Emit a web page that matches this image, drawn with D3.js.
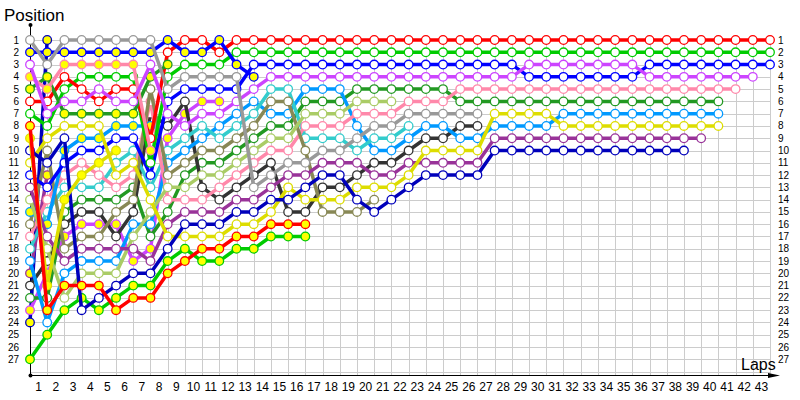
<!DOCTYPE html>
<html>
<head>
<meta charset="utf-8">
<script src="https://cdn.jsdelivr.net/npm/d3@7.9.0/dist/d3.min.js"></script>
<style>
  body { margin: 0; background: #fff; }
  svg { display: block; font-family: Tahoma, "Liberation Sans", sans-serif; }
</style>
</head>
<body>
<svg id="chart" width="800" height="400"></svg>
<script>
// Lap chart: position of each car at the end of every lap (lap 0 = grid)
const lapCount = 43;
const maxPosition = 27;

// positions per car, index = lap
const gray1    = [1,3,1,1,1,1,1,1,5,4,4,4,4,13,12,11,11,10,10,9,8,8,7,7,7,7,7];
const blue2    = [2,2,2,2,2,2,2,2,1,2,2,1,3,4];
const violet3  = [3,7,6,6,5,6,6,3,7,8,7,7,6,5,4,4,4,4,4,4,4,4,4,4,4,4,4,4,4,3,3,3,3,3,3,3,4,4,4,4,4,4,4];
const pink4    = [4,5,3,3,3,3,3,10];
const dkgreen5 = [5,4,7,7,7,7,7,4,3];
const red6     = [6,6,4,5,6,5,5,9,2,1,1,2,1,1,1,1,1,1,1,1,1,1,1,1,1,1,1,1,1,1,1,1,1,1,1,1,1,1,1,1,1,1,1,1];
const green7   = [7,8,5,4,4,4,4,11,4,3,3,3,2,2,2,2,2,2,2,2,2,2,2,2,2,2,2,2,2,2,2,2,2,2,2,2,2,2,2,2,2,2,2,2];
const red8     = [8,23,21,21,21,23,22,22,20,19,18,18,17,17,16,16,16];
const yellow9  = [9,21,14,12,11,10];
const navy10   = [10,11,9,23,22,21,20,20,18,16,16,16,15,15,14,14,13,12,12,14,15,14,13,12,12,12,12,10,10,10,10,10,10,10,10,10,10,10,10];
const yellow11 = [11,9,8,8,8,12,11,14,17,17,17,17,16,16,15,13,14,14,14,13,13,13,12,10,10,10,10,7,7,7,7,8,8,8,8,8,8,8,8,8,8];
const blue12   = [12,13,11,10,10,9,9,12,6,5,5,5,5,3,3,3,3,3,3,3,3,3,3,3,3,3,3,3,3,4,4,4,4,4,4,4,3,3,3,3,3,3,3,3];
const purple13 = [13,17,19,18,18,18,18,19,16,15,15,15,14,14,13,12,12,11,11,11,12,12,11,11,11,11,11,9,9,9,9,9,9,9,9,9,9,9,9,9];
const lgreen14 = [14,18,22,20,20,20,17,15,13,13,12,12,11,10,9,9,7,7,7,6,6,6];
const sky15    = [15,16,10,9,9,8,8,8];
const olive16  = [16,10,18,17,17,15,14,5,12,11,10,10,9,8,6,6,10,15,15,15,14];
const pink17   = [17,14,12,11,12,13,12,6,14,14,14,13,12,11,10,10,8,8,8,7,7,7,6,6,6,5,5,5,5,5,5,5,5,5,5,5,5,5,5,5,5,5];
const cyan18   = [18,15,13,13,13,11,10,13,10,9,8,9,8,7,5,5,9,9,9,10,9,9,8];
const sky19    = [19,24,20,19,19,19,16,16,11,10,9,8,7,6,7,7,5,5,5,8,10,10,9,8,8,9,9,8,8,8,8,7,7,7,7,7,7,7,7,7,7];
const purple20 = [20,12];
const dkgray21 = [21,19,16,15,15,17,15,7,8,6,13,14,13,12,11,15,15,13,13,12,11,11,10,9,9,8,8];
const dkgreen22= [22,22,15,14,14,14,13,17,15,12,11,11,10,9,8,8,6,6,6,5,5,5,5,5,5,6,6,6,6,6,6,6,6,6,6,6,6,6,6,6,6];
const violet23 = [23,20,17,16,16,16,19,18,9,7,6,6];
const navy24   = [24,1];
const green27  = [27,25,23,22,23,22,21,21,19,18,19,19,18,18,17,17,17];

const positionLabels = d3.range(1, maxPosition + 1);
const lapLabels = d3.range(1, lapCount + 1);

// colour and marker style per car (second driver of a team has filled markers)
const cars = [
  { pos: green27,  color: '#00cc00', second: true },
  { pos: navy24,   color: '#0000bb', second: true },
  { pos: violet23, color: '#cc44ff', second: true },
  { pos: dkgreen22,color: '#229922', second: false },
  { pos: dkgray21, color: '#333333', second: false },
  { pos: purple20, color: '#993399', second: true },
  { pos: sky19,    color: '#0099ff', second: false },
  { pos: cyan18,   color: '#33cccc', second: false },
  { pos: pink17,   color: '#ff88aa', second: false },
  { pos: olive16,  color: '#888855', second: false },
  { pos: sky15,    color: '#0099ff', second: true },
  { pos: lgreen14, color: '#aacc66', second: false },
  { pos: purple13, color: '#993399', second: false },
  { pos: blue12,   color: '#0000ff', second: false },
  { pos: yellow11, color: '#dddd00', second: false },
  { pos: navy10,   color: '#0000bb', second: false },
  { pos: yellow9,  color: '#dddd00', second: true },
  { pos: red8,     color: '#ff0000', second: true },
  { pos: green7,   color: '#00cc00', second: false },
  { pos: red6,     color: '#ff0000', second: false },
  { pos: dkgreen5, color: '#229922', second: true },
  { pos: pink4,    color: '#ff88aa', second: true },
  { pos: violet3,  color: '#cc44ff', second: false },
  { pos: blue2,    color: '#0000ff', second: true },
  { pos: gray1,    color: '#999999', second: false }
];

const svg = d3.select('#chart');
const x = d3.scaleLinear().domain([0, lapCount]).range([30, 770]);
const y = d3.scaleLinear().domain([1, maxPosition]).range([40, 359.3]);
const axisY = Math.round(y(28.3)) + 0.5;

// grid
const grid = svg.append('g').attr('stroke', '#cccccc').attr('stroke-width', 1);
grid.selectAll('line.h')
  .data(d3.range(1, 29))
  .join('line')
  .attr('x1', x(0)).attr('x2', x(lapCount))
  .attr('y1', d => Math.round(y(d)) + 0.5).attr('y2', d => Math.round(y(d)) + 0.5);
grid.selectAll('line.v')
  .data(d3.range(1, lapCount + 1))
  .join('line')
  .attr('x1', d => Math.round(x(d)) + 0.5).attr('x2', d => Math.round(x(d)) + 0.5)
  .attr('y1', y(1)).attr('y2', axisY);

// axes
svg.append('line')
  .attr('x1', x(0) + 0.5).attr('x2', x(0) + 0.5)
  .attr('y1', 25).attr('y2', axisY)
  .attr('stroke', '#000');
svg.append('line')
  .attr('x1', x(0)).attr('x2', 776)
  .attr('y1', axisY).attr('y2', axisY)
  .attr('stroke', '#000');
svg.append('circle').attr('cx', x(0) + 0.5).attr('cy', 25).attr('r', 2).attr('fill', '#000');
svg.append('circle').attr('cx', x(0) + 0.5).attr('cy', axisY).attr('r', 2).attr('fill', '#000');
svg.append('path')
  .attr('d', `M768,${axisY - 2.5} L780,${axisY} L768,${axisY + 2.5} Z`)
  .attr('fill', '#000');

// labels
svg.append('text').attr('x', 4).attr('y', 21).attr('font-size', 17).text('Position');
svg.append('text').attr('x', 741).attr('y', 370).attr('font-size', 16).text('Laps');

svg.append('g').selectAll('text')
  .data(positionLabels)
  .join('text')
  .attr('x', 19).attr('y', d => y(d)).attr('dy', '0.35em')
  .attr('text-anchor', 'end').attr('font-size', 10)
  .text(d => d);
svg.append('g').selectAll('text')
  .data(positionLabels)
  .join('text')
  .attr('x', 778).attr('y', d => y(d)).attr('dy', '0.35em')
  .attr('font-size', 10)
  .text(d => d);
svg.append('g').selectAll('text')
  .data(lapLabels)
  .join('text')
  .attr('x', d => x(d - 0.5)).attr('y', 391)
  .attr('text-anchor', 'middle').attr('font-size', 12)
  .text(d => d);

// cars
const line = d3.line().x((d, i) => x(i)).y(d => y(d));
const carG = svg.append('g').selectAll('g')
  .data(cars)
  .join('g');

carG.append('path')
  .attr('d', d => line(d.pos))
  .attr('fill', 'none')
  .attr('stroke', d => d.color)
  .attr('stroke-width', 3.5)
  .attr('stroke-linejoin', 'round');

carG.each(function(car) {
  d3.select(this).selectAll('circle')
    .data(car.pos)
    .join('circle')
    .attr('cx', (d, i) => x(i))
    .attr('cy', d => y(d))
    .attr('r', 4.3)
    .attr('fill', car.second ? '#ffff00' : '#ffffff')
    .attr('stroke', car.color)
    .attr('stroke-width', 1.3);
});
</script>
</body>
</html>
